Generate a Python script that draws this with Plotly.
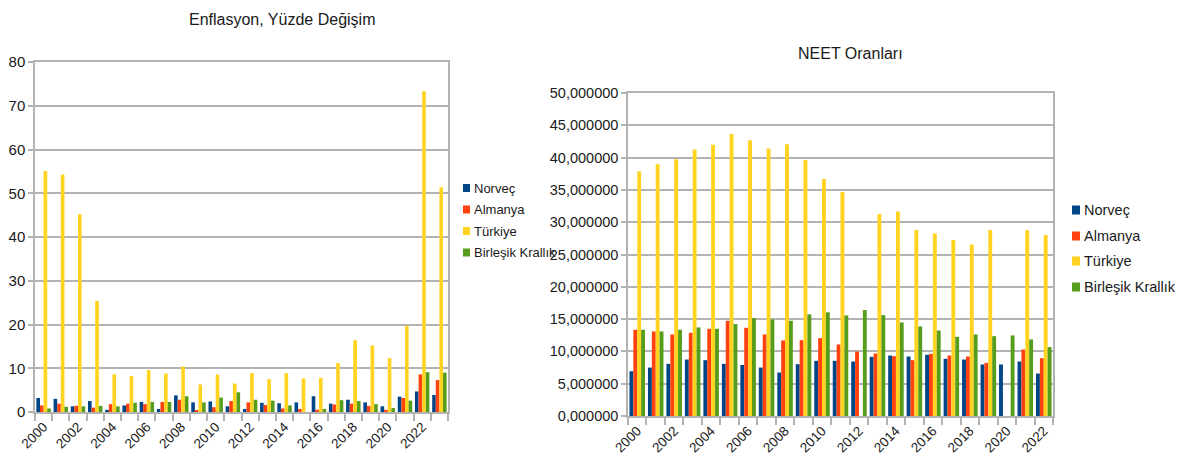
import plotly.graph_objects as go

# ---------------- data ----------------
years_inf = list(range(2000, 2024))
inf_norvec = [3.2, 3.0, 1.3, 2.5, 0.5, 1.5, 2.3, 0.7, 3.8, 2.2, 2.4, 1.3,
              0.7, 2.1, 2.0, 2.2, 3.6, 1.9, 2.8, 2.2, 1.3, 3.5, 4.7, 3.9]
inf_almanya = [1.5, 1.9, 1.4, 1.0, 1.8, 1.9, 1.8, 2.3, 2.8, 0.3, 1.1, 2.5,
               2.2, 1.6, 0.8, 0.7, 0.5, 1.7, 1.9, 1.4, 0.5, 3.2, 8.6, 7.3]
inf_turkiye = [55.1, 54.3, 45.2, 25.4, 8.6, 8.2, 9.6, 8.8, 10.4, 6.3, 8.6, 6.5,
               8.9, 7.5, 8.9, 7.7, 7.8, 11.2, 16.4, 15.2, 12.3, 19.7, 73.3, 51.4]
inf_uk = [0.8, 1.2, 1.3, 1.4, 1.3, 2.1, 2.3, 2.3, 3.6, 2.2, 3.3, 4.5,
          2.8, 2.6, 1.5, 0.0, 0.7, 2.7, 2.5, 1.8, 0.9, 2.6, 9.1, 9.0]

years_neet = list(range(2000, 2023))
neet_norvec = [6.93, 7.50, 8.07, 8.74, 8.64, 8.07, 7.90, 7.50, 6.73, 8.02, 8.54, 8.54,
               8.43, 9.16, 9.36, 9.21, 9.47, 8.85, 8.74, 7.97, 7.97, 8.43, 6.57]
neet_almanya = [13.35, 13.09, 12.62, 12.88, 13.50, 14.74, 13.66, 12.62, 11.69, 11.74, 12.05, 11.07,
                9.98, 9.67, 9.26, 8.64, 9.62, 9.36, 9.21, 8.23, None, 10.29, 8.95]
neet_turkiye = [37.90, 38.97, 39.74, 41.24, 41.97, 43.67, 42.69, 41.40, 42.07, 39.64, 36.69, 34.67,
                None, 31.28, 31.64, 28.79, 28.27, 27.24, 26.55, 28.79, None, 28.74, 28.00]
neet_uk = [13.35, 13.09, 13.35, 13.71, 13.50, 14.23, 15.16, 14.95, 14.74, 15.73, 16.04, 15.57,
           16.40, 15.62, 14.48, 13.86, 13.24, 12.26, 12.62, 12.36, 12.47, 11.85, 10.66]

series_names = ["Norveç", "Almanya", "Türkiye", "Birleşik Krallık"]
colors = ["#004586", "#ff420e", "#ffd320", "#579d1c"]

FONT = "Liberation Sans, Arial, sans-serif"
TXT = "#1a1a1a"
GRID = "#b3b3b3"
W, H = 1181, 470


def px_x(p):
    return p / W


def px_y(p):
    return 1 - p / H


fig = go.Figure()

for name, vals, col in zip(series_names, [inf_norvec, inf_almanya, inf_turkiye, inf_uk], colors):
    fig.add_trace(go.Bar(x=years_inf, y=vals, name=name, marker_color=col,
                         marker_line_width=0, xaxis="x", yaxis="y", showlegend=False,
                         offsetgroup=name))

for name, vals, col in zip(series_names, [neet_norvec, neet_almanya, neet_turkiye, neet_uk], colors):
    fig.add_trace(go.Bar(x=years_neet, y=vals, name=name, marker_color=col,
                         marker_line_width=0, xaxis="x2", yaxis="y2", showlegend=False,
                         offsetgroup=name))

common_x = dict(
    showgrid=False, showline=True, linecolor=GRID, linewidth=1.5, mirror=True,
    ticks="", tickangle=-45, tickfont=dict(family=FONT, size=13.5, color=TXT),
    zeroline=False, automargin=False,
    minor=dict(ticks="outside", ticklen=7, tickcolor=GRID, tickwidth=1.5, dtick=1,
               tick0=1999.5, showgrid=False),
)
common_y = dict(
    showgrid=True, gridcolor=GRID, gridwidth=1.5, showline=True, linecolor=GRID, linewidth=1.5,
    mirror=True, ticks="outside", ticklen=5, tickcolor=GRID, tickwidth=1.5,
    zeroline=False, automargin=False,
)

# manual legends (LibreOffice style: small square + label)
shapes = []
annotations = []
legend_specs = [
    (463, [188, 209.5, 231, 252.5], 7, 13),  # left chart legend: x, ys, square size, font size
    (1072, [210, 236, 261, 287], 8, 14.5),   # right chart legend
]
for lx, ys, sq, fs in legend_specs:
    for name, col, yy in zip(series_names, colors, ys):
        shapes.append(dict(type="rect", xref="paper", yref="paper",
                           x0=px_x(lx), x1=px_x(lx + sq),
                           y0=px_y(yy + sq / 2 + 0.5), y1=px_y(yy - sq / 2 - 0.5),
                           fillcolor=col, line=dict(width=0)))
        annotations.append(dict(text=name, x=px_x(lx + sq + 2), y=px_y(yy), xref="paper", yref="paper",
                                showarrow=False, xanchor="left", yanchor="middle",
                                font=dict(family=FONT, size=fs, color=TXT)))

annotations += [
    dict(text="Enflasyon, Yüzde Değişim", x=px_x(282), y=px_y(19), xref="paper", yref="paper",
         showarrow=False, font=dict(family=FONT, size=16, color=TXT), xanchor="center", yanchor="middle"),
    dict(text="NEET Oranları", x=px_x(850), y=px_y(53), xref="paper", yref="paper",
         showarrow=False, font=dict(family=FONT, size=16, color=TXT), xanchor="center", yanchor="middle"),
]

fig.update_layout(
    width=W, height=H, margin=dict(l=0, r=0, t=0, b=0),
    paper_bgcolor="white", plot_bgcolor="white",
    barmode="group", bargroupgap=0,
    separators=",.",
    font=dict(family=FONT, color=TXT),
    xaxis=dict(domain=[px_x(35), px_x(448)], range=[1999.5, 2023.5],
               tickvals=list(range(2000, 2024, 2)), **common_x),
    yaxis=dict(domain=[px_y(412), px_y(62)], range=[0, 80], dtick=10,
               tickfont=dict(family=FONT, size=15, color=TXT), **common_y),
    xaxis2=dict(domain=[px_x(628), px_x(1053)], range=[1999.5, 2022.5], anchor="y2",
                tickvals=list(range(2000, 2023, 2)), **common_x),
    yaxis2=dict(domain=[px_y(416), px_y(93)], range=[0, 50], dtick=5, tickformat=".6f",
                anchor="x2", tickfont=dict(family=FONT, size=14.5, color=TXT), **common_y),
    shapes=shapes,
    annotations=annotations,
    bargap=0.16,
)

fig.write_html(
    "out.html",
    config={"displayModeBar": False},
    post_script="document.body.style.margin='0';document.body.style.overflow='hidden';",
)
